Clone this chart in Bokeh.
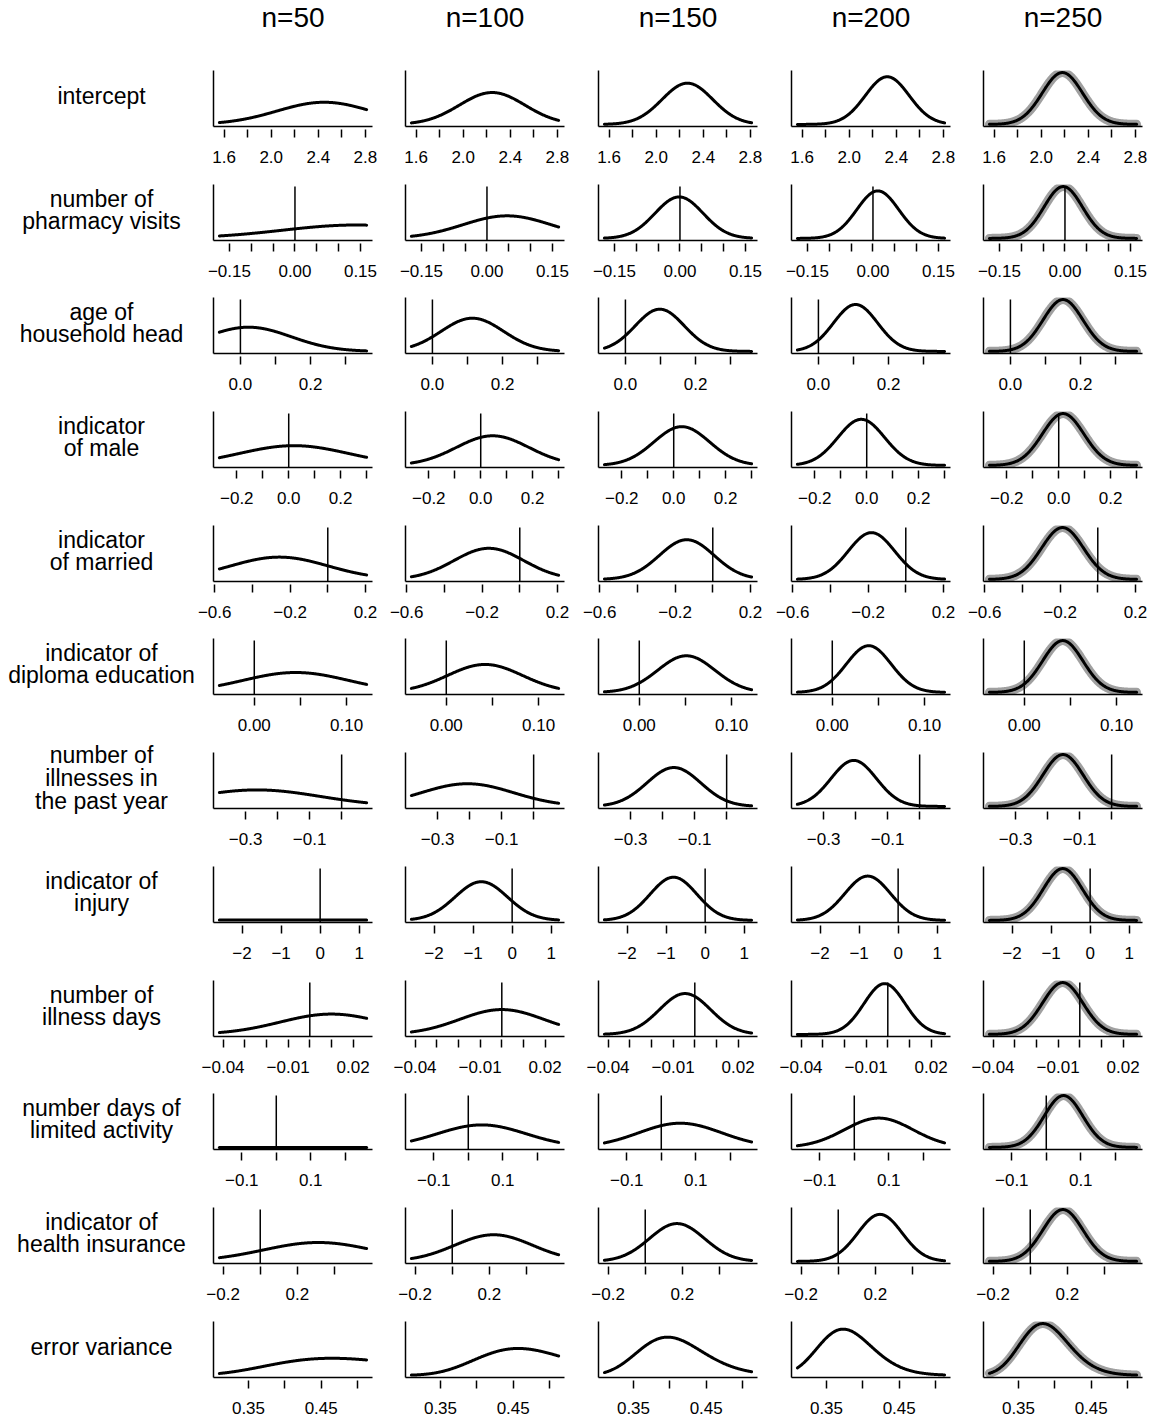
import math
import numpy as np
from bokeh.plotting import figure
from bokeh.layouts import gridplot, column, row
from bokeh.models import Range1d, FixedTicker, CustomJSTickFormatter
from bokeh.embed import file_html
from bokeh.resources import INLINE
from bokeh.core.properties import value

# ---------------- data ----------------
column_titles = ["n=50", "n=100", "n=150", "n=200", "n=250"]

row_labels = [
    ["intercept"],
    ["number of", "pharmacy visits"],
    ["age of", "household head"],
    ["indicator", "of male"],
    ["indicator", "of married"],
    ["indicator of", "diploma education"],
    ["number of", "illnesses in", "the past year"],
    ["indicator of", "injury"],
    ["number of", "illness days"],
    ["number days of", "limited activity"],
    ["indicator of", "health insurance"],
    ["error variance"],
]

# x extent of the density curves in every row
x_limits = [
    (1.56, 2.81), (-0.173, 0.164), (-0.06, 0.36), (-0.267, 0.30),
    (-0.575, 0.206), (-0.0378, 0.1217), (-0.382, 0.078), (-2.58, 1.19),
    (-0.0417, 0.0262), (-0.165, 0.262), (-0.22, 0.573), (0.31, 0.5125),
]

tick_values = [
    [1.6, 1.8, 2.0, 2.2, 2.4, 2.6, 2.8],
    [-0.15, -0.10, -0.05, 0.0, 0.05, 0.10, 0.15],
    [0.0, 0.1, 0.2, 0.3],
    [-0.2, -0.1, 0.0, 0.1, 0.2, 0.3],
    [-0.6, -0.4, -0.2, 0.0, 0.2],
    [0.0, 0.05, 0.10],
    [-0.3, -0.2, -0.1, 0.0],
    [-2, -1, 0, 1],
    [-0.04, -0.03, -0.02, -0.01, 0.0, 0.01, 0.02],
    [-0.1, 0.0, 0.1, 0.2],
    [-0.2, 0.0, 0.2, 0.4],
    [0.35, 0.40, 0.45, 0.50],
]
tick_labels = [
    ["1.6", "", "2.0", "", "2.4", "", "2.8"],
    ["\u22120.15", "", "", "0.00", "", "", "0.15"],
    ["0.0", "", "0.2", ""],
    ["\u22120.2", "", "0.0", "", "0.2", ""],
    ["\u22120.6", "", "\u22120.2", "", "0.2"],
    ["0.00", "", "0.10"],
    ["\u22120.3", "", "\u22120.1", ""],
    ["\u22122", "\u22121", "0", "1"],
    ["\u22120.04", "", "", "\u22120.01", "", "", "0.02"],
    ["\u22120.1", "", "0.1", ""],
    ["\u22120.2", "", "0.2", ""],
    ["0.35", "", "0.45", ""],
]

# vertical reference line per row (None = no line)
reference_lines = [None, 0.0, 0.0, 0.0, 0.0, 0.0, 0.0, 0.0, 0.0, 0.0, 0.0, None]

# posterior centre (mean; mode for error variance) per row x sample size
post_center = [
    [2.45, 2.246, 2.265, 2.323, 2.18],
    [0.14, 0.046, -0.002, 0.011, -0.004],
    [0.023, 0.114, 0.098, 0.106, 0.150],
    [0.02, 0.046, 0.031, -0.021, 0.017],
    [-0.257, -0.164, -0.138, -0.182, -0.187],
    [0.0449, 0.042, 0.051, 0.0395, 0.0417],
    [-0.265, -0.207, -0.165, -0.206, -0.152],
    [0.0, -0.79, -0.81, -0.78, -0.70],
    [0.010, 0.0, -0.0045, -0.0015, -0.0079],
    [0.0, 0.039, 0.055, 0.071, 0.050],
    [0.313, 0.223, 0.171, 0.225, 0.176],
    [0.465, 0.457, 0.397, 0.373, 0.3835],
]
# posterior standard deviation (normal rows)
post_sd = [
    [0.40, 0.278, 0.215, 0.186, 0.171],
    [0.17, 0.101, 0.055, 0.048, 0.044],
    [0.122, 0.089, 0.070, 0.063, 0.057],
    [0.21, 0.140, 0.107, 0.090, 0.080],
    [0.258, 0.185, 0.145, 0.123, 0.111],
    [0.057, 0.0406, 0.031, 0.0243, 0.0219],
    [0.198, 0.144, 0.084, 0.071, 0.063],
    [60.0, 0.67, 0.60, 0.585, 0.50],
    [0.0237, 0.0194, 0.0118, 0.0095, 0.0093],
    [60.0, 0.129, 0.12, 0.099, 0.056],
    [0.296, 0.21, 0.148, 0.119, 0.108],
    None,
]
# inverse-gamma shape of the error-variance posterior per sample size
error_variance_shape = [22, 51, 77, 99, 131]

# ---------------- layout / style ----------------
FONT = "Liberation Sans"
TOTAL_W = 1150
PAD_L = 17
FRAME_W = 159
FIRST_FRAME_X = 213
COL_PITCH = 192.5
PAD_T = 10
FRAME_H = 56
TITLE_H = 60
ROW_PITCH = 113.7
LAST_BOTTOM = 42
LINE_GAP = 22.6
GRAY = "#a0a0a0"

frame_left = [FIRST_FRAME_X + round(c * COL_PITCH) for c in range(5)]
cell_left = [x - PAD_L for x in frame_left] + [TOTAL_W]
LABEL_W = cell_left[0]
CELL_W = [cell_left[c + 1] - cell_left[c] for c in range(5)]

tops = [round(r * ROW_PITCH) for r in range(12)]
heights = [tops[r + 1] - tops[r] for r in range(11)] + [PAD_T + FRAME_H + LAST_BOTTOM]
GRID_H = sum(heights)


def density(r, c, xs):
    m = post_center[r][c]
    if post_sd[r] is None:
        a = error_variance_shape[c]
        b = m * (a + 1)
        logf = a * math.log(b) - math.lgamma(a) - (a + 1) * np.log(xs) - b / xs
        return np.exp(logf)
    s = post_sd[r][c]
    return np.exp(-0.5 * ((xs - m) / s) ** 2) / (s * math.sqrt(2 * math.pi))


curves = []
row_max = []
for r in range(12):
    lo, hi = x_limits[r]
    xs = np.linspace(lo, hi, 300)
    ys = [density(r, c, xs) for c in range(5)]
    curves.append((xs, ys))
    row_max.append(max(float(y.max()) for y in ys))


def blank_fig(w, h):
    p = figure(width=w, height=h, x_range=Range1d(0, w), y_range=Range1d(0, h),
               output_backend="svg", toolbar_location=None, title=None,
               x_axis_type=None, y_axis_type=None, min_border=0)
    p.grid.visible = False
    p.outline_line_color = None
    p.background_fill_color = None
    p.border_fill_color = None
    return p


# column titles (one strip across the top)
title_fig = blank_fig(TOTAL_W, TITLE_H)
title_fig.text(x=[fl + FRAME_W / 2 for fl in frame_left], y=[TITLE_H - 17] * 5,
               text=column_titles, text_font=value(FONT), text_font_size=value("28px"),
               text_color="black", text_align="center", text_baseline="middle")

# row labels (one strip down the left side)
label_fig = blank_fig(LABEL_W, GRID_H)
lab_x, lab_y, lab_t = [], [], []
for r, lines in enumerate(row_labels):
    n = len(lines)
    centre = tops[r] + PAD_T + FRAME_H / 2 - 2.5
    for i, s in enumerate(lines):
        lab_x.append(101)
        lab_y.append(GRID_H - (centre + (i - (n - 1) / 2) * LINE_GAP))
        lab_t.append(s)
label_fig.text(x=lab_x, y=lab_y, text=lab_t, text_font=value(FONT),
               text_font_size=value("23px"), text_color="black",
               text_align="center", text_baseline="middle")


def panel(r, c):
    w = CELL_W[c]
    h = heights[r]
    lo, hi = x_limits[r]
    span = hi - lo
    M = row_max[r]
    p = figure(width=w, height=h,
               x_range=Range1d(lo - 0.04 * span, hi + 0.04 * span),
               y_range=Range1d(-0.04 * M, 1.04 * M),
               output_backend="svg", toolbar_location=None, title=None,
               min_border_left=PAD_L, min_border_right=w - PAD_L - FRAME_W,
               min_border_top=PAD_T, min_border_bottom=h - PAD_T - FRAME_H)
    p.grid.visible = False
    p.outline_line_color = None
    p.background_fill_color = None
    p.border_fill_color = None

    major = [t for t, s in zip(tick_values[r], tick_labels[r]) if s]
    labs = [s for s in tick_labels[r] if s]
    minor = [t for t, s in zip(tick_values[r], tick_labels[r]) if not s]
    xa = p.xaxis[0]
    xa.ticker = FixedTicker(ticks=major, minor_ticks=minor)
    xa.formatter = CustomJSTickFormatter(args=dict(vals=major, labs=labs), code="""
        for (let i = 0; i < vals.length; i++) {
            if (Math.abs(tick - vals[i]) < 1e-9) { return labs[i]; }
        }
        return "";
    """)
    for attr in ("axis_line", "major_tick_line", "minor_tick_line"):
        setattr(xa, attr + "_color", "black")
        setattr(xa, attr + "_width", 1.5)
    xa.major_tick_in = -3
    xa.major_tick_out = 11
    xa.minor_tick_in = -3
    xa.minor_tick_out = 11
    xa.major_label_standoff = 13
    xa.major_label_text_font = FONT
    xa.major_label_text_font_size = "17px"
    xa.major_label_text_color = "black"

    ya = p.yaxis[0]
    ya.ticker = FixedTicker(ticks=[])
    ya.major_tick_line_color = None
    ya.minor_tick_line_color = None
    ya.major_label_text_font_size = "0px"
    ya.axis_line_color = "black"
    ya.axis_line_width = 1.5

    xs, ys = curves[r]
    if c == 4:
        p.line(xs, ys[c], line_width=9, line_color=GRAY, line_cap="round", line_join="round")
    ref = reference_lines[r]
    if ref is not None:
        p.segment(x0=[ref], y0=[-0.04 * M], x1=[ref], y1=[M], line_color="black", line_width=1.5)
    p.line(xs, ys[c], line_width=3, line_color="black", line_cap="round", line_join="round")
    return p


panel_grid = gridplot([[panel(r, c) for c in range(5)] for r in range(12)],
                      toolbar_location=None)

layout = column(title_fig, row(label_fig, panel_grid))

open("out.html", "w").write(file_html(layout, INLINE))
